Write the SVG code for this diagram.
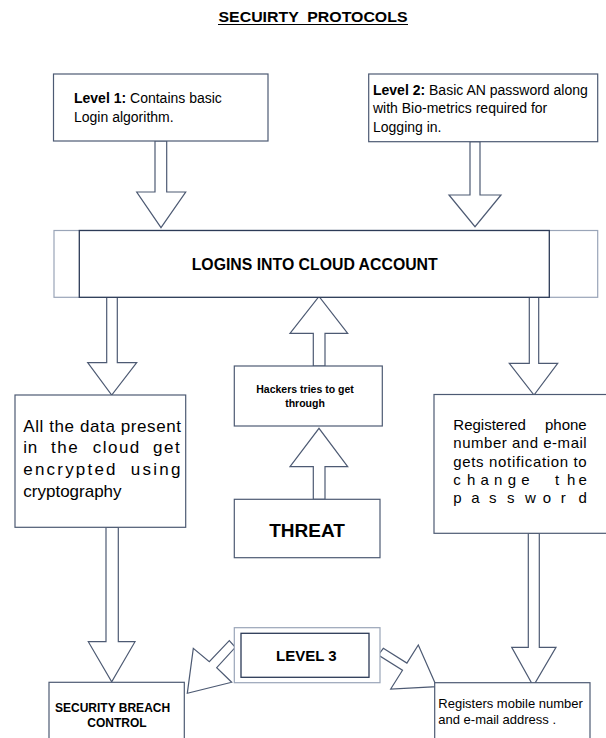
<svg xmlns="http://www.w3.org/2000/svg" width="606" height="738" viewBox="0 0 606 738">
<style>
  text { font-family: "Liberation Sans", Arial, sans-serif; fill: #000; }
  .box { fill: #fff; stroke: #4d5a73; stroke-width: 1.2; }
  .light { fill: #fff; stroke: #9aa5b8; stroke-width: 1.2; }
  .dark { fill: #fff; stroke: #2c3a57; stroke-width: 1.3; }
  .arrow { fill: #fff; stroke: #4d5a73; stroke-width: 1.2; stroke-linejoin: miter; }
  .b { font-weight: bold; }
</style>
<rect width="606" height="738" fill="#fff"/>

<g id="title">
  <text x="313" y="22" text-anchor="middle" class="b" font-size="15" textLength="189" lengthAdjust="spacingAndGlyphs" xml:space="preserve">SECUIRTY  PROTOCOLS</text>
  <line x1="218" y1="24.5" x2="408" y2="24.5" stroke="#000" stroke-width="1.2"/>
</g>

<g id="connectors">
  <polygon class="arrow" points="155,141 166.7,141 166.7,192 185.7,192 161,227.7 136.7,192 155,192"/>
  <polygon class="arrow" points="470,141.7 480,141.7 480,195 501,195 475,226.7 449,195 470,195"/>
  <polygon class="arrow" points="106.7,297.3 117.3,297.3 117.3,362.7 136.7,362.7 111.7,395 87.7,362.7 106.7,362.7"/>
  <polygon class="arrow" points="529.3,297.3 538.7,297.3 538.7,363.3 557.7,363.3 534,395 509.3,363.3 529.3,363.3"/>
  <polygon class="arrow" points="313.3,366 325,366 325,333.3 347.7,333.3 319,296.5 290,333.3 313.3,333.3"/>
  <polygon class="arrow" points="313.3,499.3 325,499.3 325,466.7 347.7,466.7 319,428.3 290,466.7 313.3,466.7"/>
  <polygon class="arrow" points="106,527.3 118.3,527.3 118.3,641.7 135,641.7 111.7,681.7 88.3,641.7 106,641.7"/>
  <polygon class="arrow" points="528.3,533.3 539.3,533.3 539.3,647.3 556,647.3 533.3,686 511.7,647.3 528.3,647.3"/>
  <polygon class="arrow" points="229.3,640.7 209.3,661.7 193.3,648.3 187.3,693.3 231.7,682.3 216.7,667.7 235.3,647.3"/>
  <polygon class="arrow" points="383.3,648.3 406.9,663.1 418.3,645 436.7,686.7 390.7,689 402.5,670.3 378.3,655"/>
</g>

<g id="level1">
  <rect class="box" x="53.5" y="74" width="214.5" height="67"/>
  <text x="74" y="103" font-size="14"><tspan class="b">Level 1:</tspan> Contains basic</text>
  <text x="74" y="122" font-size="14">Login algorithm.</text>
</g>

<g id="level2">
  <rect class="box" x="368.7" y="74" width="229" height="67.7"/>
  <text x="373" y="95" font-size="14"><tspan class="b">Level 2:</tspan> Basic AN password along</text>
  <text x="373" y="113.3" font-size="14">with Bio-metrics required for</text>
  <text x="373" y="131.7" font-size="14">Logging in.</text>
</g>

<g id="logins">
  <rect class="light" x="54" y="230.5" width="543.7" height="66.8"/>
  <rect class="dark" x="79.3" y="230.5" width="470" height="66.8"/>
  <text x="314.7" y="270" text-anchor="middle" class="b" font-size="16" textLength="246" lengthAdjust="spacingAndGlyphs">LOGINS INTO CLOUD ACCOUNT</text>
</g>

<g id="data">
  <rect class="box" x="15" y="395" width="170.7" height="132.3"/>
  <text x="23.3" y="431.7" font-size="17" textLength="157.7" lengthAdjust="spacing">All the data present</text>
  <text x="23.3" y="453.3" font-size="17" letter-spacing="0.7">in</text>
  <text x="51" y="453.3" font-size="17" letter-spacing="1.5">the</text>
  <text x="92.7" y="453.3" font-size="17" letter-spacing="1.5">cloud</text>
  <text x="153" y="453.3" font-size="17" letter-spacing="1.5">get</text>
  <text x="23.3" y="475" font-size="17" letter-spacing="2.2">encrypted</text>
  <text x="130.7" y="475" font-size="17" letter-spacing="2.3">using</text>
  <text x="23.3" y="496.7" font-size="17">cryptography</text>
</g>

<g id="hackers">
  <rect class="box" x="234.3" y="366" width="148" height="60"/>
  <text x="305" y="393.3" text-anchor="middle" class="b" font-size="10.5">Hackers tries to get</text>
  <text x="305" y="406.7" text-anchor="middle" class="b" font-size="10.5">through</text>
</g>

<g id="threat">
  <rect class="box" x="234.3" y="499.3" width="145.7" height="58.4"/>
  <text x="307" y="536.7" text-anchor="middle" class="b" font-size="19">THREAT</text>
</g>

<g id="registered">
  <rect class="box" x="434" y="394.5" width="180" height="138.8"/>
  <text x="453.3" y="430" font-size="15">Registered</text>
  <text x="586.7" y="430" font-size="15" text-anchor="end">phone</text>
  <text x="453.3" y="448.3" font-size="15" textLength="133.4" lengthAdjust="spacing">number and e-mail</text>
  <text x="453.3" y="466.7" font-size="15" textLength="133.4" lengthAdjust="spacing">gets notification to</text>
  <text x="453.3 466.9 480.5 494.1 507.7 521.3" y="485" font-size="15">change</text>
  <text x="555 567 578.5" y="485" font-size="15">the</text>
  <text x="453.3 471.2 489.1 507 524.9 542.8 560.7 578.6" y="503.3" font-size="15">password</text>
</g>

<g id="level3">
  <rect class="light" x="234.3" y="627.7" width="145.7" height="55"/>
  <rect class="dark" x="241" y="633.3" width="128" height="44"/>
  <text x="306.3" y="660.7" text-anchor="middle" class="b" font-size="15">LEVEL 3</text>
</g>

<g id="security">
  <rect class="box" x="49" y="682.3" width="135.3" height="60"/>
  <text x="55" y="711.7" class="b" font-size="12">SECURITY BREACH</text>
  <text x="87.3" y="726.7" class="b" font-size="12">CONTROL</text>
</g>

<g id="registers">
  <rect class="box" x="434.7" y="682.7" width="155.3" height="60"/>
  <text x="438.3" y="708.3" font-size="13">Registers mobile number</text>
  <text x="438.3" y="724" font-size="13">and e-mail address .</text>
</g>
</svg>
